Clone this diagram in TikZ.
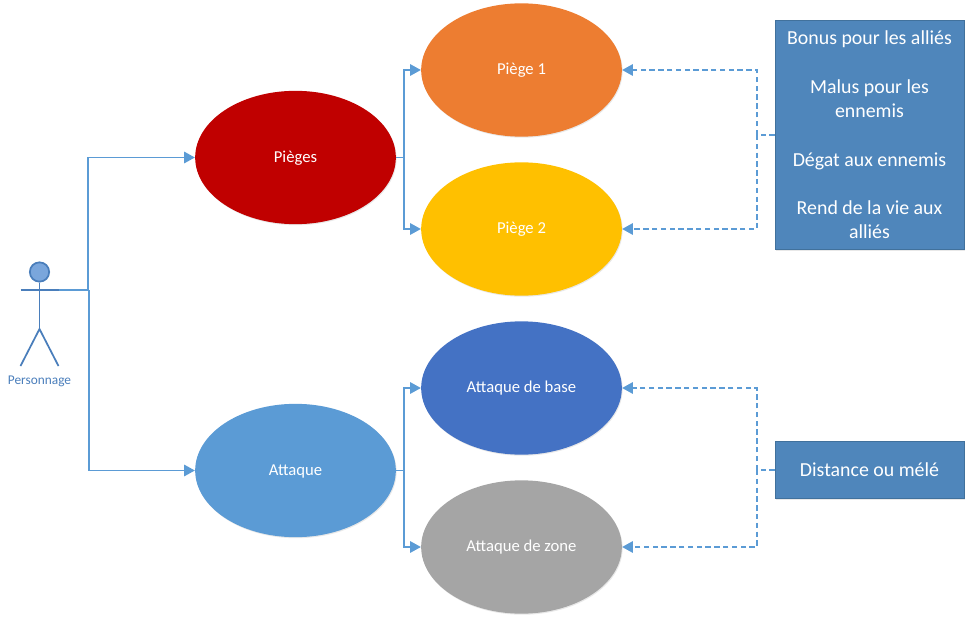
\documentclass[tikz,border=0pt]{standalone}
\usepackage{fontspec}
\setmainfont{Carlito}
\usetikzlibrary{arrows.meta,shadows,shapes.geometric}
\definecolor{lineblue}{HTML}{5B9BD5}
\definecolor{boxblue}{HTML}{4F86BB}
\definecolor{boxedge}{HTML}{41719C}
\definecolor{actorblue}{HTML}{4A7EBB}
\definecolor{headblue}{HTML}{7AA6DC}
\definecolor{labelblue}{HTML}{4A7EBB}
\definecolor{piegesred}{HTML}{C00000}
\definecolor{piegeorange}{HTML}{ED7D31}
\definecolor{piegegold}{HTML}{FFC000}
\definecolor{baseblue}{HTML}{4472C4}
\definecolor{zonegrey}{HTML}{A5A5A5}
\begin{document}
\begin{tikzpicture}[x=0.75pt, y=-0.75pt,
    usecase/.style ={ellipse, minimum width=150.5pt, minimum height=100pt, inner sep=0pt, text=white,
      text height=9.5pt, text depth=2.5pt,
      font=\fontsize{12.5}{15}\selectfont, drop shadow={shadow xshift=0.6pt, shadow yshift=-0.8pt, opacity=0.18}},
    notebox/.style ={rectangle, draw=boxedge, fill=boxblue, text=white, align=center, minimum width=141.75pt, inner sep=0pt,
      font=\fontsize{14.9}{18.2}\selectfont, drop shadow={shadow xshift=0.6pt, shadow yshift=-0.8pt, opacity=0.18}},
    link/.style ={draw=lineblue, line width=1.2pt, -{Triangle[length=8pt, width=8.5pt]}},
    plainlink/.style ={draw=lineblue, line width=1.2pt},
    dep/.style ={link, dash pattern=on 4pt off 2.6pt},
    plaindep/.style ={plainlink, dash pattern=on 4pt off 2.6pt},
    limb/.style ={draw=actorblue, line width=1.3pt}]
   \useasboundingbox (0,0) rectangle (971,624);
   % actor
   \node[circle, draw=actorblue, fill=headblue, line width=1.3pt, minimum size=14.5pt, inner sep=0pt] (head) at (39.5,272) {};
   \coordinate (handL) at (20.5,290);
   \coordinate (handR) at (58.5,290);
   \coordinate (hip) at (39.5,329);
   \coordinate (footL) at (20.5,366);
   \coordinate (footR) at (58.5,366);
   \draw[limb] (head) -- (hip);
   \draw[limb] (handL) -- (handR);
   \draw[limb] (footL) -- (hip) -- (footR);
   \node[text=labelblue, font=\fontsize{10}{12}\selectfont] (personnage) at (39.5,381) {Personnage};
   % use cases
   \node[usecase, fill=piegesred] (pieges) at (295.5,157.5) {Pièges};
   \node[usecase, fill=lineblue] (attaque) at (295.5,470.5) {Attaque};
   \node[usecase, fill=piegeorange] (piege1) at (521.5,70) {Piège 1};
   \node[usecase, fill=piegegold] (piege2) at (521.5,229) {Piège 2};
   \node[usecase, fill=baseblue] (base) at (521.5,388) {Attaque de base};
   \node[usecase, fill=zonegrey] (zone) at (521.5,547) {Attaque de zone};
   % notes
   \node[notebox, minimum height=171.75pt] (effets) at (869.5,135) {Bonus pour les alliés\\[18.2pt]Malus pour les\\ennemis\\[18.2pt]Dégat aux ennemis\\[18.2pt]Rend de la vie aux\\alliés};
   \node[notebox, minimum height=42.75pt] (distance) at (869.5,470) {Distance ou mélé};
   % connectors
   \coordinate (fork1) at (404,157.5);
   \coordinate (fork2) at (404,470.5);
   \coordinate (joint1) at (757,135);
   \coordinate (joint2) at (757,470);
   \coordinate (trunk1) at (88,290);
   \coordinate (trunk2) at (89,290);
   \draw[plainlink] (handR) -- (trunk2);
   \draw[link] (trunk1) |- (pieges);
   \draw[link] (trunk2) |- (attaque);
   \draw[plainlink] (pieges) -- (fork1);
   \draw[link] (fork1) |- (piege1);
   \draw[link] (fork1) |- (piege2);
   \draw[plainlink] (attaque) -- (fork2);
   \draw[link] (fork2) |- (base);
   \draw[link] (fork2) |- (zone);
   \draw[plaindep] (effets) -- (joint1);
   \draw[dep] (joint1) |- (piege1);
   \draw[dep] (joint1) |- (piege2);
   \draw[plaindep] (distance) -- (joint2);
   \draw[dep] (joint2) |- (base);
   \draw[dep] (joint2) |- (zone);
 \end{tikzpicture}
\end{document}
